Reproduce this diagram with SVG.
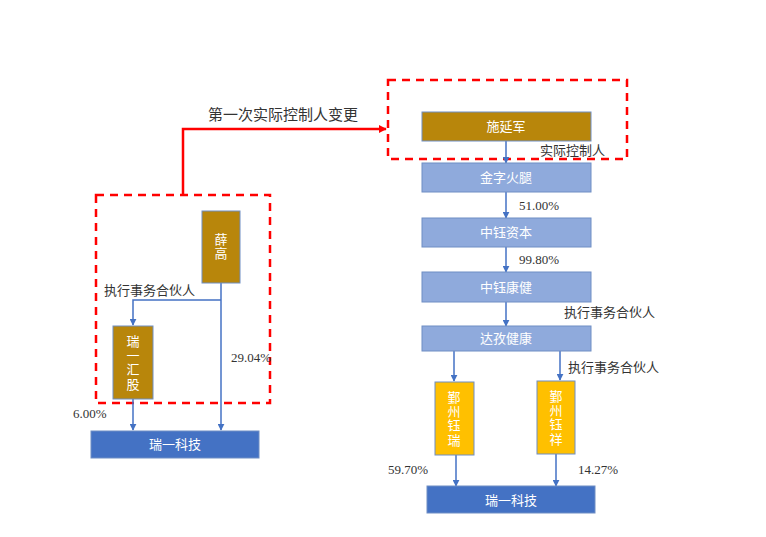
<svg xmlns="http://www.w3.org/2000/svg" width="766" height="537" viewBox="0 0 766 537">
<style>
.bx{stroke:#6F8EC4;stroke-width:1}
.gold{fill:#B8860B}
.yel{fill:#FFC000}
.lb{fill:#8FAADC}
.db{fill:#4472C4}
.wt{font-family:"Noto Sans CJK SC","Noto Sans",sans-serif;font-size:13px;fill:#FFFFFF;text-anchor:middle}
.vt{font-family:"Noto Sans CJK SC","Noto Sans",sans-serif;font-size:13px;fill:#FFFFFF;text-anchor:middle;writing-mode:vertical-rl;letter-spacing:1.3px}
.lab{font-family:"Noto Sans CJK SC","Noto Sans",sans-serif;font-size:13px;fill:#333333}
.ttl{font-family:"Noto Sans CJK SC","Noto Sans",sans-serif;font-size:15px;fill:#333333;text-anchor:middle}
.pct{font-family:"Liberation Serif",serif;font-size:13px;fill:#333333}
.cn{stroke:#4472C4;stroke-width:1.5;fill:none}
.red{stroke:#FF0000;stroke-width:2.5;fill:none;stroke-dasharray:8 6}
</style>
<defs>
<marker id="ab" viewBox="0 0 10 10" refX="9" refY="5" markerWidth="7" markerHeight="7" markerUnits="userSpaceOnUse" orient="auto">
<path d="M0,0 L10,5 L0,10 z" fill="#4472C4"/>
</marker>
<marker id="ar" viewBox="0 0 10 10" refX="9" refY="5" markerWidth="8" markerHeight="8" markerUnits="userSpaceOnUse" orient="auto">
<path d="M0,0 L10,5 L0,10 z" fill="#FF0000"/>
</marker>
</defs>
<rect width="766" height="537" fill="#FFFFFF"/>

<g id="frames">
<rect class="red" x="96" y="195" width="174" height="208"/>
<rect class="red" x="388" y="80" width="239" height="79"/>
<path d="M183,195 L183,129 L386,129" stroke="#FF0000" stroke-width="2.5" fill="none" marker-end="url(#ar)"/>
<text class="ttl" x="283" y="120">第一次实际控制人变更</text>
</g>

<g id="connectors">
<path class="cn" d="M221,283 L221,430" marker-end="url(#ab)"/>
<path class="cn" d="M221,300 L133,300 L133,325" marker-end="url(#ab)"/>
<path class="cn" d="M133,399 L133,430" marker-end="url(#ab)"/>
<path class="cn" d="M506,141 L506,163" marker-end="url(#ab)"/>
<path class="cn" d="M506,192 L506,218" marker-end="url(#ab)"/>
<path class="cn" d="M506,247 L506,272" marker-end="url(#ab)"/>
<path class="cn" d="M506,302 L506,326" marker-end="url(#ab)"/>
<path class="cn" d="M454,351 L454,381" marker-end="url(#ab)"/>
<path class="cn" d="M560,351 L560,380" marker-end="url(#ab)"/>
<path class="cn" d="M456,455 L456,486" marker-end="url(#ab)"/>
<path class="cn" d="M556,454 L556,486" marker-end="url(#ab)"/>
</g>

<g id="labels">
<text class="lab" x="104" y="295">执行事务合伙人</text>
<text class="pct" x="231" y="362">29.04%</text>
<text class="pct" x="73" y="418">6.00%</text>
<text class="lab" x="540" y="155">实际控制人</text>
<text class="pct" x="519" y="210">51.00%</text>
<text class="pct" x="519" y="264">99.80%</text>
<text class="lab" x="564" y="317">执行事务合伙人</text>
<text class="lab" x="568" y="372">执行事务合伙人</text>
<text class="pct" x="388" y="474">59.70%</text>
<text class="pct" x="578" y="474">14.27%</text>
</g>

<g id="xuegao">
<rect class="bx gold" x="202" y="211" width="38" height="72"/>
<text class="vt" x="221" y="247">薛高</text>
</g>

<g id="ruiyihuigu">
<rect class="bx gold" x="113" y="326" width="40" height="73"/>
<text class="vt" x="133" y="363">瑞一汇股</text>
</g>

<g id="ruiyikeji-left">
<rect class="bx db" x="91" y="431" width="168" height="27"/>
<text class="wt" x="175" y="449">瑞一科技</text>
</g>

<g id="shiyanjun">
<rect class="bx gold" x="422" y="112" width="169" height="29"/>
<text class="wt" x="506" y="131">施延军</text>
</g>

<g id="jinzihuotui">
<rect class="bx lb" x="422" y="163" width="169" height="29"/>
<text class="wt" x="506" y="182">金字火腿</text>
</g>

<g id="zhongyuziben">
<rect class="bx lb" x="422" y="218" width="169" height="29"/>
<text class="wt" x="506" y="237">中钰资本</text>
</g>

<g id="zhongyukangjian">
<rect class="bx lb" x="422" y="272" width="169" height="30"/>
<text class="wt" x="506" y="292">中钰康健</text>
</g>

<g id="dazijiankang">
<rect class="bx lb" x="422" y="326" width="169" height="25"/>
<text class="wt" x="506" y="343">达孜健康</text>
</g>

<g id="yinzhouyurui">
<rect class="bx yel" x="435" y="382" width="39" height="73"/>
<text class="vt" x="454" y="419">鄞州钰瑞</text>
</g>

<g id="yinzhouyuxiang">
<rect class="bx yel" x="537" y="381" width="38" height="73"/>
<text class="vt" x="556" y="418">鄞州钰祥</text>
</g>

<g id="ruiyikeji-right">
<rect class="bx db" x="427" y="486" width="168" height="27"/>
<text class="wt" x="511" y="505">瑞一科技</text>
</g>
</svg>
